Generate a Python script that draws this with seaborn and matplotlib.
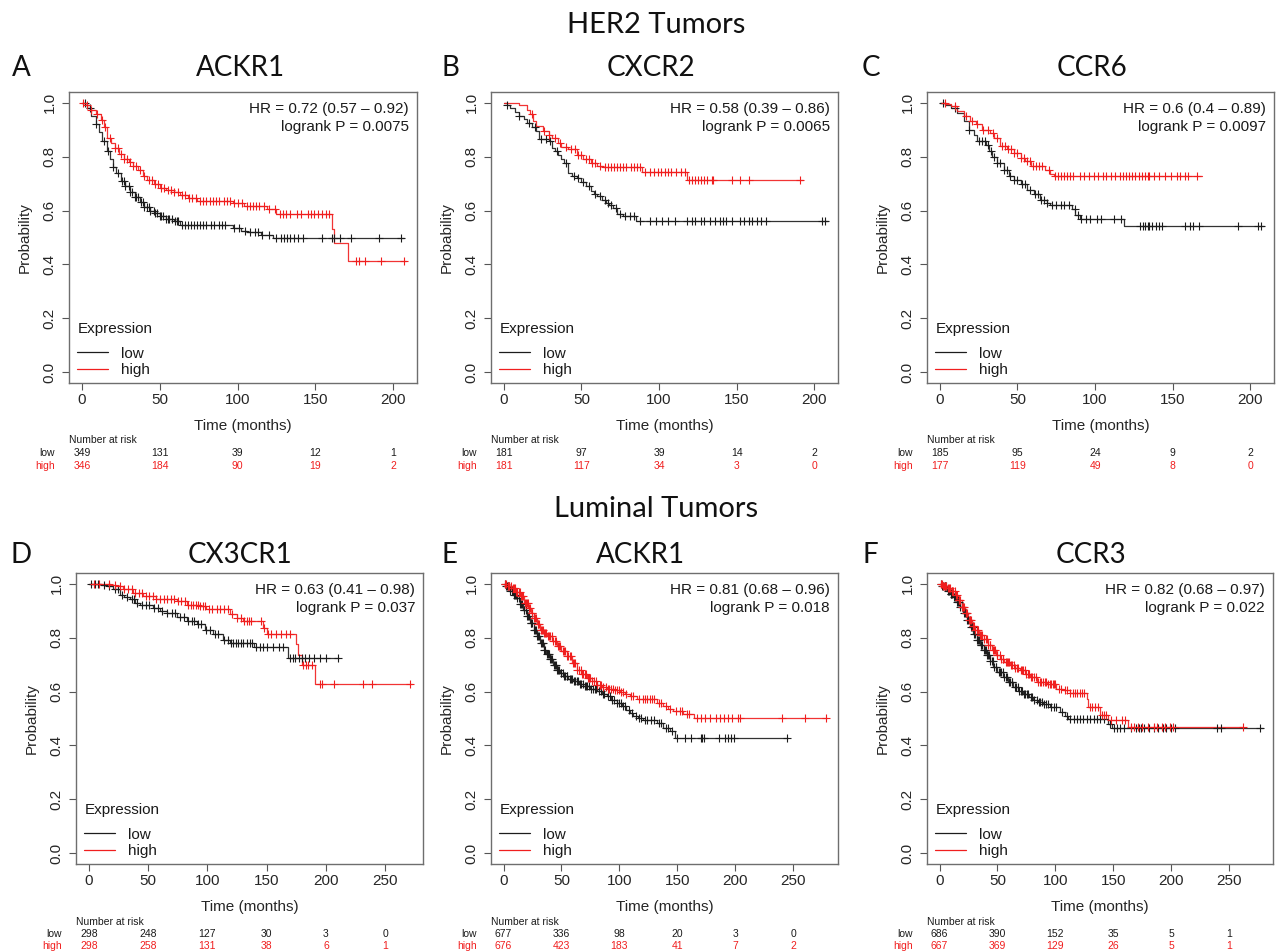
import numpy as np
import matplotlib
matplotlib.use("Agg")
import matplotlib.pyplot as plt
import matplotlib.transforms as mtransforms
from matplotlib.lines import Line2D
import seaborn as sns

# ---------------------------------------------------------------------------
# Kaplan-Meier curves: step knots (time in months, survival probability)
# and censoring times for each expression group.
# ---------------------------------------------------------------------------

# HER2 tumors - ACKR1
her2_ackr1_low_t = [0, 3, 6, 9, 11, 13, 16, 18, 20, 22, 25, 28, 31, 34, 37, 40, 44, 47, 50, 54, 59, 63, 97, 102, 106, 115, 123, 207]
her2_ackr1_low_s = [1.0, 0.98, 0.95, 0.92, 0.89, 0.86, 0.82, 0.79, 0.76, 0.74, 0.71, 0.69, 0.67, 0.65, 0.63, 0.615, 0.60, 0.59, 0.58, 0.57, 0.56, 0.545, 0.535, 0.525, 0.52, 0.51, 0.498, 0.498]
her2_ackr1_low_cens = [2, 5, 9, 14, 17, 20, 23, 26, 27, 28, 30, 31, 32, 34, 35, 36, 38, 39, 40, 42, 43, 44, 46, 47, 48, 50, 51, 52, 54, 55, 56, 58, 60, 61, 62, 64, 66, 68, 70, 72, 74, 76, 78, 80, 83, 85, 88, 90, 92, 98, 101, 105, 108, 111, 113, 116, 120, 125, 128, 130, 132, 134, 136, 139, 142, 154, 161, 162, 166, 173, 191, 205]
her2_ackr1_high_t = [0, 2, 5, 9, 12, 14, 16, 19, 21, 24, 27, 30, 33, 36, 39, 42, 46, 50, 54, 59, 63, 68, 74, 97, 104, 119, 125, 161, 162, 171, 208]
her2_ackr1_high_s = [1.0, 0.99, 0.975, 0.96, 0.935, 0.91, 0.87, 0.85, 0.834, 0.81, 0.79, 0.78, 0.765, 0.75, 0.73, 0.715, 0.70, 0.683, 0.675, 0.668, 0.656, 0.645, 0.637, 0.627, 0.616, 0.606, 0.588, 0.533, 0.48, 0.412, 0.412]
her2_ackr1_high_cens = [1, 3, 6, 10, 13, 15, 18, 21, 23, 25, 27, 29, 31, 33, 35, 37, 40, 43, 45, 47, 49, 51, 53, 55, 57, 59, 62, 64, 66, 69, 71, 73, 76, 78, 80, 82, 84, 86, 88, 91, 93, 95, 98, 100, 103, 106, 108, 110, 112, 114, 117, 120, 124, 127, 129, 131, 134, 138, 141, 145, 147, 149, 152, 154, 157, 159, 176, 178, 182, 192, 207]

# HER2 tumors - CXCR2
her2_cxcr2_low_t = [0, 2, 4, 7, 10, 13, 15, 18, 21, 22.5, 29, 31, 33, 35, 37, 39, 41, 44, 47, 50, 53, 56, 58, 60, 63, 66, 68, 70, 73, 77, 85, 209]
her2_cxcr2_low_s = [1.0, 0.99, 0.98, 0.965, 0.95, 0.94, 0.926, 0.91, 0.895, 0.864, 0.858, 0.833, 0.82, 0.808, 0.79, 0.777, 0.74, 0.73, 0.72, 0.705, 0.69, 0.672, 0.66, 0.653, 0.64, 0.629, 0.62, 0.61, 0.589, 0.579, 0.56, 0.56]
her2_cxcr2_low_cens = [2, 10, 16, 20, 24, 27, 30, 34, 40, 45, 48, 51, 55, 59, 62, 65, 67, 69, 72, 75, 78, 81, 84, 88, 94, 98, 102, 106, 110, 118, 121, 123, 127, 129, 133, 136, 139, 141, 143, 147, 152, 155, 158, 160, 163, 166, 169, 205, 207]
her2_cxcr2_high_t = [0, 10, 15, 17, 19, 21, 25, 29, 31, 35, 36.5, 41, 47, 51, 56, 60, 64, 89, 118, 193]
her2_cxcr2_high_s = [1.0, 0.99, 0.975, 0.957, 0.932, 0.913, 0.895, 0.879, 0.87, 0.85, 0.837, 0.827, 0.808, 0.79, 0.777, 0.767, 0.762, 0.743, 0.712, 0.712]
her2_cxcr2_high_cens = [18, 26, 29, 33, 36, 40, 43, 46, 48, 50, 53, 55, 57, 59, 62, 65, 67, 69, 71, 73, 75, 77, 79, 82, 84, 86, 88, 91, 94, 97, 99, 101, 104, 106, 108, 111, 114, 117, 119, 121, 123, 125, 127, 129, 131, 134, 135, 147, 152, 158, 191]

# HER2 tumors - CCR6
her2_ccr6_low_t = [0, 3, 7, 11, 15.5, 18.7, 22, 23.6, 29.4, 31.5, 33.7, 37, 41, 44.4, 47.6, 52, 56, 60.5, 64.8, 69, 71, 85, 87.3, 90.5, 118.5, 208.6]
her2_ccr6_low_s = [1.0, 0.99, 0.981, 0.963, 0.932, 0.90, 0.882, 0.858, 0.845, 0.82, 0.80, 0.777, 0.752, 0.728, 0.715, 0.697, 0.678, 0.66, 0.64, 0.629, 0.62, 0.604, 0.585, 0.567, 0.542, 0.542]
her2_ccr6_low_cens = [2, 10, 19, 25, 27, 29, 31, 33, 35, 37, 39, 41, 43, 45, 48, 50, 53, 55, 58, 61, 63, 65, 67, 69, 72, 75, 78, 80, 83, 87, 89, 91, 94, 97, 101, 104, 112, 117, 129, 131, 132, 134, 135, 137, 139, 141, 143, 158, 161, 163, 167, 192, 205, 207]
her2_ccr6_high_t = [0, 4, 7, 11, 15.5, 19.7, 23, 27, 32.6, 34.8, 39, 43.3, 47.6, 52, 55, 58.4, 68, 71, 73.4, 169]
her2_ccr6_high_s = [1.0, 0.995, 0.988, 0.97, 0.95, 0.932, 0.92, 0.90, 0.889, 0.87, 0.839, 0.827, 0.814, 0.796, 0.783, 0.767, 0.752, 0.734, 0.728, 0.728]
her2_ccr6_high_cens = [3, 10, 17, 21, 24, 28, 31, 34, 37, 40, 42, 44, 46, 48, 50, 52, 54, 56, 58, 60, 62, 64, 66, 70, 74, 76, 78, 80, 82, 84, 86, 90, 93, 96, 99, 102, 105, 107, 110, 113, 116, 118, 120, 122, 124, 126, 128, 130, 132, 134, 135, 138, 141, 145, 149, 153, 155, 158, 160, 166]

# Luminal tumors - CX3CR1
lum_cx3cr1_low_t = [0, 10, 15, 20.5, 26, 30, 34.6, 39, 43, 54, 60, 65.6, 74, 82.5, 91, 98, 105, 113.5, 119, 139, 168, 210.6]
lum_cx3cr1_low_s = [1.0, 0.995, 0.991, 0.979, 0.96, 0.95, 0.942, 0.93, 0.923, 0.911, 0.90, 0.892, 0.877, 0.861, 0.849, 0.830, 0.812, 0.793, 0.781, 0.766, 0.725, 0.725]
lum_cx3cr1_low_cens = [2, 5, 8, 13, 17, 22, 25, 28, 32, 36, 38, 41, 45, 48, 51, 55, 58, 62, 66, 70, 73, 77, 80, 84, 87, 89, 92, 95, 99, 102, 106, 109, 114, 117, 120, 122, 124, 126, 128, 130, 133, 136, 138, 141, 144, 147, 150, 155, 160, 164, 170, 172, 174, 177, 180, 182, 186, 190, 195, 200, 210]
lum_cx3cr1_high_t = [0, 18, 23, 29, 37.4, 46, 57, 74, 82.5, 93.7, 99, 119, 124.7, 130, 147, 150, 175, 176.2, 179.6, 191, 272.5]
lum_cx3cr1_high_s = [1.0, 0.995, 0.991, 0.979, 0.967, 0.954, 0.942, 0.936, 0.923, 0.917, 0.905, 0.886, 0.874, 0.861, 0.836, 0.815, 0.777, 0.737, 0.70, 0.628, 0.628]
lum_cx3cr1_high_cens = [4, 9, 17, 22, 26, 30, 33, 36, 39, 42, 45, 48, 51, 54, 57, 60, 63, 66, 69, 72, 75, 78, 81, 84, 86, 88, 90, 92, 94, 96, 98, 101, 104, 108, 111, 114, 117, 121, 125, 128, 131, 133, 135, 137, 145, 148, 151, 154, 158, 162, 166, 170, 181, 183, 185, 188, 195, 197, 207, 231, 239, 271]

# Luminal tumors - ACKR1
lum_ackr1_low_t = [0, 2, 5.7, 8.5, 11.5, 14, 17, 20, 23, 26, 28.7, 31.5, 34.5, 37, 40, 43, 46, 49, 51.7, 56, 60, 65, 69, 75, 80.5, 85, 89, 93, 97.7, 102, 106, 109, 112, 116, 120.7, 132, 138, 143.7, 148, 245.7]
lum_ackr1_low_s = [1.0, 0.99, 0.972, 0.96, 0.947, 0.925, 0.904, 0.88, 0.854, 0.83, 0.805, 0.78, 0.756, 0.738, 0.719, 0.70, 0.681, 0.668, 0.657, 0.647, 0.638, 0.628, 0.62, 0.61, 0.601, 0.592, 0.583, 0.57, 0.558, 0.545, 0.533, 0.52, 0.509, 0.502, 0.496, 0.484, 0.465, 0.453, 0.428, 0.428]
lum_ackr1_low_cens = [1, 2.5, 3, 4, 5, 6, 7, 8, 9, 10, 11, 12, 13, 14.5, 15, 16, 17.5, 18, 19, 20.5, 21, 22, 23.5, 24, 25, 26.5, 27, 28, 29, 30, 31, 32, 33, 34, 35, 36, 37.5, 38, 39, 40.5, 41, 42, 43.5, 44, 45, 46.5, 47, 48, 49.5, 50, 51, 52, 53, 54.5, 55, 57, 58, 59.5, 61, 62, 63.5, 64, 66, 67, 68.5, 70, 71, 72, 74, 75.5, 77, 79, 80, 82, 84, 86, 87, 90, 92, 93.5, 95, 98, 100, 101.5, 103, 105, 108, 111, 114, 117, 119, 122, 124, 127, 130, 134, 136, 140, 142, 145, 150, 157, 162, 170, 171, 173, 186, 191, 194, 196, 199, 245]
lum_ackr1_high_t = [0, 3, 7, 10.5, 14.4, 18, 21.5, 24, 26, 29, 31.6, 34.5, 37.4, 42, 46, 50, 54.6, 59, 63, 67, 72, 76, 80.5, 85, 89, 95, 100.6, 105, 109, 115, 132, 138, 142, 146.6, 155, 164, 278.7]
lum_ackr1_high_s = [1.0, 0.992, 0.984, 0.97, 0.953, 0.93, 0.91, 0.89, 0.873, 0.85, 0.83, 0.818, 0.805, 0.787, 0.768, 0.75, 0.731, 0.706, 0.681, 0.665, 0.651, 0.638, 0.626, 0.618, 0.61, 0.604, 0.598, 0.59, 0.583, 0.573, 0.558, 0.546, 0.537, 0.527, 0.515, 0.502, 0.502]
lum_ackr1_high_cens = [1, 2, 3.5, 4, 5, 6.5, 8, 9, 10, 11, 12, 13, 14, 15.5, 16, 17, 18.5, 19, 20, 21, 22, 23, 24.5, 25, 26, 27, 28, 29.5, 30, 31, 32, 33, 34, 35, 36, 37, 38.5, 39, 40, 41.5, 43, 44, 45.5, 47, 48, 49, 51, 52.5, 53, 55, 56, 57.5, 58, 60, 61, 62, 63.5, 65, 66.5, 68, 69, 70, 71.5, 73, 74, 75, 76.5, 78, 79.5, 81, 83, 84.5, 86, 88, 90, 91, 93, 94.5, 96, 98, 99.5, 101, 103, 106, 110, 112, 117, 120, 122, 124, 126, 128, 130, 134, 136, 140, 144, 149, 152, 154, 158, 160, 167, 170, 174, 178, 183, 187, 190, 194, 197, 202, 204, 240, 260, 278]

# Luminal tumors - CCR3
lum_ccr3_low_t = [0, 2, 6.3, 9, 12, 15, 17.8, 20.5, 23.6, 26.5, 29.3, 32, 35, 38, 40.8, 43.5, 46.5, 50, 55, 59, 63.8, 68, 72.4, 77, 81, 85, 89.7, 95.4, 104, 108, 111, 145.7, 148.6, 279]
lum_ccr3_low_s = [1.0, 0.99, 0.975, 0.963, 0.951, 0.933, 0.914, 0.89, 0.864, 0.84, 0.815, 0.792, 0.772, 0.753, 0.735, 0.712, 0.691, 0.672, 0.654, 0.636, 0.617, 0.603, 0.59, 0.578, 0.568, 0.56, 0.553, 0.543, 0.525, 0.509, 0.498, 0.481, 0.463, 0.463]
lum_ccr3_low_cens = [1, 2, 3, 4.5, 5, 6, 7, 8, 9.5, 10, 11, 12.5, 13, 14, 15.5, 16, 17, 18, 19, 20, 21, 22, 23, 24, 25, 26, 27, 28, 29, 30, 31, 32.5, 33, 34, 35.5, 36, 37, 38.5, 39, 40, 41, 42, 43, 44, 45, 46, 47, 48.5, 49, 51, 52, 53, 54.5, 56, 57, 58, 60, 61, 62.5, 63, 65, 66, 67.5, 69, 70, 71, 73, 74, 75.5, 76, 79, 80, 82, 84, 86, 87, 88.5, 90, 92, 94, 96, 99, 101, 106, 110, 113, 116, 119, 121, 124, 127, 130, 133, 136, 139, 142, 147, 151, 153, 156, 159, 165, 170, 172, 174, 177, 181, 185, 189, 193, 196, 200, 203, 240, 243, 277]
lum_ccr3_high_t = [0, 3, 6.3, 10, 13.5, 16, 19, 22, 25, 28, 30.7, 34, 38, 41.5, 45, 48.5, 52.3, 56, 61, 65, 69.5, 74, 78, 84, 92.5, 101, 107, 112.6, 127, 128.4, 138.5, 145.7, 163, 262]
lum_ccr3_high_s = [1.0, 0.992, 0.985, 0.972, 0.957, 0.938, 0.914, 0.89, 0.864, 0.845, 0.827, 0.81, 0.796, 0.773, 0.753, 0.737, 0.722, 0.71, 0.698, 0.689, 0.679, 0.666, 0.654, 0.636, 0.627, 0.611, 0.605, 0.593, 0.574, 0.543, 0.512, 0.496, 0.469, 0.469]
lum_ccr3_high_cens = [1, 2, 3, 4, 5, 6, 7, 8, 9, 10.5, 11, 12, 13, 14, 15, 16.5, 17, 18, 19.5, 20, 21, 22.5, 23, 24, 25.5, 26, 27, 28.5, 29, 30, 31, 32, 33.5, 35, 36, 37, 38.5, 40, 41, 42, 43.5, 44, 46, 47, 48, 49.5, 50, 52, 53, 54.5, 55, 57, 58, 59.5, 60, 62, 63, 64, 65.5, 67, 68, 70, 71, 72, 73.5, 75, 76, 77, 79, 80, 82, 83.5, 85, 87, 88, 89, 91, 92, 94, 95.5, 96, 98, 99, 100, 103, 105, 108, 110, 113, 115, 117, 119, 121, 123, 125, 130, 132, 134, 137, 140, 142, 144, 148, 152, 158, 160, 165, 168, 171, 175, 180, 185, 188, 192, 195, 199, 202, 262]

# Numbers at risk at each x tick
her2_ackr1_risk_low = [349, 131, 39, 12, 1]
her2_ackr1_risk_high = [346, 184, 90, 19, 2]
her2_cxcr2_risk_low = [181, 97, 39, 14, 2]
her2_cxcr2_risk_high = [181, 117, 34, 3, 0]
her2_ccr6_risk_low = [185, 95, 24, 9, 2]
her2_ccr6_risk_high = [177, 119, 49, 8, 0]
lum_cx3cr1_risk_low = [298, 248, 127, 30, 3, 0]
lum_cx3cr1_risk_high = [298, 258, 131, 38, 6, 1]
lum_ackr1_risk_low = [677, 336, 98, 20, 3, 0]
lum_ackr1_risk_high = [676, 423, 183, 41, 7, 2]
lum_ccr3_risk_low = [686, 390, 152, 35, 5, 1]
lum_ccr3_risk_high = [667, 369, 129, 26, 5, 1]

# Hazard ratios and log-rank p-values
her2_ackr1_stats = ["HR = 0.72 (0.57 \u2013 0.92)", "logrank P = 0.0075"]
her2_cxcr2_stats = ["HR = 0.58 (0.39 \u2013 0.86)", "logrank P = 0.0065"]
her2_ccr6_stats = ["HR = 0.6 (0.4 \u2013 0.89)", "logrank P = 0.0097"]
lum_cx3cr1_stats = ["HR = 0.63 (0.41 \u2013 0.98)", "logrank P = 0.037"]
lum_ackr1_stats = ["HR = 0.81 (0.68 \u2013 0.96)", "logrank P = 0.018"]
lum_ccr3_stats = ["HR = 0.82 (0.68 \u2013 0.97)", "logrank P = 0.022"]

her2_ticks = [0, 50, 100, 150, 200]
lum_ticks = [0, 50, 100, 150, 200, 250]

# ---------------------------------------------------------------------------
sns.set_style("white")
plt.rcParams["font.family"] = ["Liberation Sans", "DejaVu Sans"]
plt.rcParams["text.color"] = "#1a1a1a"

LOW_C = "#1c1c1c"
HIGH_C = "#f01e1e"
HEAD_FONT = ["Lato", "DejaVu Sans"]

W, H = 1280, 952
fig = plt.figure(figsize=(W / 100, H / 100), dpi=100)
fig.patch.set_facecolor("white")


def add_px_axes(left, top, right, bottom):
    return fig.add_axes([left / W, 1 - bottom / H, (right - left) / W, (bottom - top) / H])


def step_value(t, s, x):
    idx = np.searchsorted(np.asarray(t), np.asarray(x, dtype=float), side="right") - 1
    return np.asarray(s)[idx]


def km_panel(ax, groups, xlim, ticks, stats):
    for t, s, cens, color in groups:
        sns.lineplot(x=t, y=s, drawstyle="steps-post", color=color, linewidth=0.9,
                     estimator=None, sort=False, ax=ax, alpha=0.9)
        sns.scatterplot(x=cens, y=step_value(t, s, cens), marker="+", s=30,
                        color=color, linewidth=0.8, ax=ax, legend=False, zorder=3)
    ax.set_xlim(*xlim)
    ax.set_ylim(-0.04, 1.04)
    ax.set_xticks(ticks)
    ax.set_yticks([0.0, 0.2, 0.4, 0.6, 0.8, 1.0])
    ax.set_yticklabels(["0.0", "0.2", "0.4", "0.6", "0.8", "1.0"])
    ax.tick_params(axis="both", direction="out", length=5, width=0.8, color="#555555",
                   labelsize=11, bottom=True, left=True)
    ax.tick_params(axis="x", pad=2)
    ax.tick_params(axis="y", pad=4)
    for lab in ax.get_yticklabels():
        lab.set_rotation(90)
        lab.set_va("center")
    for sp in ax.spines.values():
        sp.set_color("#6e6e6e")
        sp.set_linewidth(1.0)
    ax.set_xlabel("Time (months)", fontsize=11, labelpad=9)
    ax.set_ylabel("Probability", fontsize=11, labelpad=8)
    ax.text(0.977, 0.943, stats[0], transform=ax.transAxes, ha="right", va="center", fontsize=11)
    ax.text(0.977, 0.881, stats[1], transform=ax.transAxes, ha="right", va="center", fontsize=11)
    # legend: title placed on its own line above the two entries
    ax.text(0.026, 0.186, "Expression", transform=ax.transAxes, ha="left", va="center", fontsize=11)
    handles = [Line2D([], [], color=LOW_C, lw=0.9), Line2D([], [], color=HIGH_C, lw=0.9)]
    ax.legend(handles, ["low", "high"], loc="lower left", bbox_to_anchor=(0.01, 0.005),
              frameon=False, fontsize=11, handlelength=2.0, handletextpad=0.9,
              labelspacing=0.15, borderaxespad=0.0, borderpad=0.3)


def risk_table(ax, ticks, low, high, box_left, y_head, y_low, y_high):
    trans = mtransforms.blended_transform_factory(ax.transData, fig.transFigure)
    fig.text(box_left / W, 1 - y_head / H, "Number at risk", ha="left", va="center", fontsize=7.5)
    fig.text((box_left - 14.5) / W, 1 - y_low / H, "low", ha="right", va="center", fontsize=7.5)
    fig.text((box_left - 14.5) / W, 1 - y_high / H, "high", ha="right", va="center",
             fontsize=7.5, color=HIGH_C)
    for x, n in zip(ticks, low):
        ax.text(x, 1 - y_low / H, str(n), transform=trans, ha="center", va="center", fontsize=7.5)
    for x, n in zip(ticks, high):
        ax.text(x, 1 - y_high / H, str(n), transform=trans, ha="center", va="center",
                fontsize=7.5, color=HIGH_C)


def heading(x, y, txt, size):
    fig.text(x / W, 1 - y / H, txt, ha="center", va="baseline", fontsize=size, family=HEAD_FONT,
             color="#111111")


panels = [
    # (letter, title, box px, title x, letter x, baseline, xlim, ticks, groups, stats, risk)
    ("A", "ACKR1", (69, 92, 417, 383), 240, 21, 76, (-8.3, 215.3), her2_ticks,
     [(her2_ackr1_low_t, her2_ackr1_low_s, her2_ackr1_low_cens, LOW_C),
      (her2_ackr1_high_t, her2_ackr1_high_s, her2_ackr1_high_cens, HIGH_C)],
     her2_ackr1_stats, (her2_ackr1_risk_low, her2_ackr1_risk_high)),
    ("B", "CXCR2", (491, 92, 838, 383), 651, 450, 76, (-8.3, 215.3), her2_ticks,
     [(her2_cxcr2_low_t, her2_cxcr2_low_s, her2_cxcr2_low_cens, LOW_C),
      (her2_cxcr2_high_t, her2_cxcr2_high_s, her2_cxcr2_high_cens, HIGH_C)],
     her2_cxcr2_stats, (her2_cxcr2_risk_low, her2_cxcr2_risk_high)),
    ("C", "CCR6", (927, 92, 1274, 383), 1092, 871, 76, (-8.3, 215.3), her2_ticks,
     [(her2_ccr6_low_t, her2_ccr6_low_s, her2_ccr6_low_cens, LOW_C),
      (her2_ccr6_high_t, her2_ccr6_high_s, her2_ccr6_high_cens, HIGH_C)],
     her2_ccr6_stats, (her2_ccr6_risk_low, her2_ccr6_risk_high)),
    ("D", "CX3CR1", (76, 573, 423, 864), 240, 21, 563, (-10.8, 281.8), lum_ticks,
     [(lum_cx3cr1_low_t, lum_cx3cr1_low_s, lum_cx3cr1_low_cens, LOW_C),
      (lum_cx3cr1_high_t, lum_cx3cr1_high_s, lum_cx3cr1_high_cens, HIGH_C)],
     lum_cx3cr1_stats, (lum_cx3cr1_risk_low, lum_cx3cr1_risk_high)),
    ("E", "ACKR1", (491, 573, 838, 864), 640, 450, 563, (-10.8, 288.6), lum_ticks,
     [(lum_ackr1_low_t, lum_ackr1_low_s, lum_ackr1_low_cens, LOW_C),
      (lum_ackr1_high_t, lum_ackr1_high_s, lum_ackr1_high_cens, HIGH_C)],
     lum_ackr1_stats, (lum_ackr1_risk_low, lum_ackr1_risk_high)),
    ("F", "CCR3", (927, 573, 1273, 864), 1091, 870, 563, (-10.8, 288.0), lum_ticks,
     [(lum_ccr3_low_t, lum_ccr3_low_s, lum_ccr3_low_cens, LOW_C),
      (lum_ccr3_high_t, lum_ccr3_high_s, lum_ccr3_high_cens, HIGH_C)],
     lum_ccr3_stats, (lum_ccr3_risk_low, lum_ccr3_risk_high)),
]

for i, (letter, title, box, tx, lx, base, xlim, ticks, groups, stats, risk) in enumerate(panels):
    ax = add_px_axes(*box)
    km_panel(ax, groups, xlim, ticks, stats)
    heading(tx, base, title, 20)
    heading(lx, base, letter, 20)
    if i < 3:
        risk_table(ax, ticks, risk[0], risk[1], box[0], 440, 453, 466)
    else:
        risk_table(ax, ticks, risk[0], risk[1], box[0], 922, 934, 946)

heading(656, 33, "HER2 Tumors", 21)
heading(656, 517, "Luminal Tumors", 21)

fig.savefig("out.png", dpi=100, facecolor="white")
